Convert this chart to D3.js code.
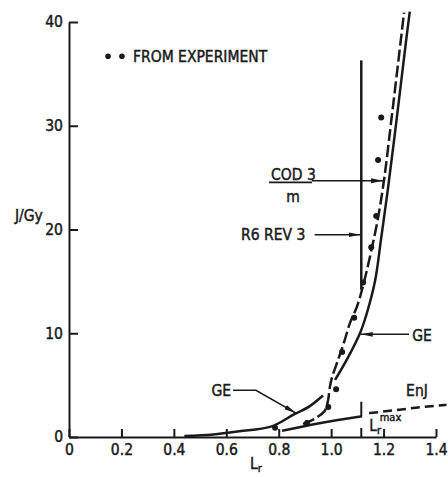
<!DOCTYPE html>
<html>
<head>
<meta charset="utf-8">
<script src="https://cdn.jsdelivr.net/npm/d3@7"></script>
<style>
  body { margin: 0; background: #fff; }
  text { font-family: "DejaVu Sans Condensed", "DejaVu Sans", sans-serif; fill: #1a1a1a; stroke: #1a1a1a; stroke-width: 0.45px; }
</style>
</head>
<body>
<div class="chart"></div>
<script>
// data (Lr, J/Gy)
const experiment = [
  [0.786, 0.9], [0.908, 1.35], [0.989, 2.9], [1.019, 4.6], [1.042, 8.2],
  [1.088, 11.5], [1.122, 14.9], [1.153, 18.3], [1.172, 21.3], [1.179, 26.7], [1.191, 30.8]
];
const geLeft = [[0.44, 0.1], [0.55, 0.25], [0.65, 0.55], [0.77, 1.0], [0.86, 2.2], [0.92, 3.0], [0.969, 4.0]];
const geRight = [[1.015, 5.5], [1.065, 7.7], [1.11, 10.0], [1.137, 12.0], [1.168, 15.1], [1.19, 19],
  [1.215, 23.6], [1.24, 28.6], [1.265, 33.8], [1.285, 38], [1.30, 41]];
const cod3m = [[0.893, 1.25], [0.94, 1.8], [0.975, 2.5], [0.988, 3.5], [0.995, 4.8], [1.004, 5.8],
  [1.026, 7.4], [1.05, 9.2], [1.072, 11], [1.099, 12.6], [1.122, 14.6], [1.15, 17.6], [1.178, 21],
  [1.203, 25], [1.228, 30.2], [1.253, 35.5], [1.278, 40.9]];
const r6Vertical = [[1.115, 14.2], [1.115, 36.3]];
const enjSolid = [[0.813, 0.6], [0.95, 1.3], [1.118, 2.0]];
const enjDashed = [[1.145, 2.3], [1.25, 2.6], [1.35, 2.9], [1.44, 3.1]];
const lrMax = 1.115;
const xTicks = [0, 0.2, 0.4, 0.6, 0.8, 1.0, 1.2, 1.4];
const yTicks = [0, 10, 20, 30, 40];

const width = 448, height = 477;

const svg = d3.select(".chart")
  .append("svg")
  .attr("width", width)
  .attr("height", height);

// scales
const x = d3.scaleLinear().domain([0, 1.4]).range([69, 436]);
const y = d3.scaleLinear().domain([0, 40]).range([437, 22]);

// arrow head
svg.append("defs").append("marker")
  .attr("id", "arrow")
  .attr("viewBox", "0 0 12 6")
  .attr("refX", 12).attr("refY", 3)
  .attr("markerWidth", 12).attr("markerHeight", 6)
  .attr("markerUnits", "userSpaceOnUse")
  .attr("orient", "auto")
  .append("path")
  .attr("d", "M0,0.6L12,3L0,5.4Z")
  .attr("fill", "#1a1a1a");

// axes
const xAxis = d3.axisBottom(x)
  .tickValues(xTicks)
  .tickFormat(d => d === 0 ? "0" : d3.format(".1f")(d))
  .tickSizeInner(-8).tickSizeOuter(0).tickPadding(7);

const yAxis = d3.axisLeft(y)
  .tickValues(yTicks)
  .tickSizeInner(-9).tickSizeOuter(0).tickPadding(6);

svg.append("g")
  .attr("transform", `translate(0,${y(0)})`)
  .call(xAxis)
  .call(g => g.selectAll("path, line").attr("stroke", "#1a1a1a").attr("stroke-width", 2))
  .call(g => g.selectAll("text").attr("font-size", 15.5).attr("fill", "#1a1a1a"));

svg.append("g")
  .attr("transform", `translate(${x(0)},0)`)
  .call(yAxis)
  .call(g => g.selectAll("path, line").attr("stroke", "#1a1a1a").attr("stroke-width", 2))
  .call(g => g.selectAll("text").attr("font-size", 15.5).attr("fill", "#1a1a1a"));

// extra tick at Lr max
svg.append("line")
  .attr("x1", x(lrMax)).attr("x2", x(lrMax))
  .attr("y1", y(0)).attr("y2", y(0) - 9)
  .attr("stroke", "#1a1a1a").attr("stroke-width", 2);

// axis titles
svg.append("text")
  .attr("x", x(-0.206)).attr("y", y(21.3)).attr("dy", "0.35em")
  .attr("font-size", 15.5).text("J/Gy");

const lrLabel = svg.append("text")
  .attr("x", x(0.69)).attr("y", y(-2.6)).attr("dy", "0.35em")
  .attr("font-size", 15.5);
lrLabel.append("tspan").text("L");
lrLabel.append("tspan").attr("font-size", 11).attr("dy", "0.25em").text("r");

// curves
const line = d3.line()
  .x(d => x(d[0]))
  .y(d => y(d[1]))
  .curve(d3.curveMonotoneX);

const smooth = d3.line()
  .x(d => x(d[0]))
  .y(d => y(d[1]))
  .curve(d3.curveCatmullRom);

const straight = d3.line().x(d => x(d[0])).y(d => y(d[1]));

svg.append("path").datum(geLeft)
  .attr("fill", "none").attr("stroke", "#1a1a1a").attr("stroke-width", 2.5)
  .attr("d", line);

svg.append("path").datum(geRight)
  .attr("fill", "none").attr("stroke", "#1a1a1a").attr("stroke-width", 2.5)
  .attr("d", smooth);

svg.append("path").datum(cod3m)
  .attr("fill", "none").attr("stroke", "#1a1a1a").attr("stroke-width", 2.5)
  .attr("stroke-dasharray", "12,4")
  .attr("d", smooth);

svg.append("path").datum(r6Vertical)
  .attr("fill", "none").attr("stroke", "#1a1a1a").attr("stroke-width", 2.5)
  .attr("d", straight);

svg.append("path").datum(enjSolid)
  .attr("fill", "none").attr("stroke", "#1a1a1a").attr("stroke-width", 2.5)
  .attr("d", line);

svg.append("path").datum(enjDashed)
  .attr("fill", "none").attr("stroke", "#1a1a1a").attr("stroke-width", 2.5)
  .attr("stroke-dasharray", "9,5")
  .attr("d", line);

// Lr max marker on EnJ line
svg.append("line")
  .attr("x1", x(lrMax)).attr("x2", x(lrMax))
  .attr("y1", y(2.0)).attr("y2", y(3.4))
  .attr("stroke", "#1a1a1a").attr("stroke-width", 2);

// experiment points
svg.selectAll("circle.exp")
  .data(experiment)
  .enter()
  .append("circle")
  .attr("class", "exp")
  .attr("cx", d => x(d[0]))
  .attr("cy", d => y(d[1]))
  .attr("r", 3)
  .attr("fill", "#1a1a1a");

// legend
svg.selectAll("circle.leg")
  .data([0.149, 0.202])
  .enter()
  .append("circle")
  .attr("class", "leg")
  .attr("cx", d => x(d))
  .attr("cy", y(36.7))
  .attr("r", 2.8)
  .attr("fill", "#1a1a1a");

svg.append("text")
  .attr("x", x(0.244)).attr("y", y(36.7)).attr("dy", "0.36em")
  .attr("font-size", 15.5).text("FROM EXPERIMENT");

// annotations
svg.append("text")
  .attr("x", x(0.771)).attr("y", y(25.3)).attr("dy", "0.36em")
  .attr("font-size", 15.5).text("COD 3");
svg.append("line")
  .attr("x1", x(0.763)).attr("x2", x(0.927))
  .attr("y1", y(24.55)).attr("y2", y(24.55))
  .attr("stroke", "#1a1a1a").attr("stroke-width", 1.8);
svg.append("text")
  .attr("x", x(0.855)).attr("y", y(23.2)).attr("dy", "0.36em")
  .attr("text-anchor", "middle").attr("font-size", 15.5).text("m");
svg.append("path").datum([[0.927, 24.7], [1.198, 24.7]])
  .attr("fill", "none").attr("stroke", "#1a1a1a").attr("stroke-width", 1.6)
  .attr("marker-end", "url(#arrow)").attr("d", straight);

svg.append("text")
  .attr("x", x(0.656)).attr("y", y(19.5)).attr("dy", "0.36em")
  .attr("font-size", 15.5).text("R6  REV  3");
svg.append("path").datum([[0.937, 19.5], [1.112, 19.5]])
  .attr("fill", "none").attr("stroke", "#1a1a1a").attr("stroke-width", 1.6)
  .attr("marker-end", "url(#arrow)").attr("d", straight);

svg.append("text")
  .attr("x", x(1.309)).attr("y", y(9.8)).attr("dy", "0.36em")
  .attr("font-size", 15.5).text("GE");
svg.append("path").datum([[1.297, 9.9], [1.113, 9.9]])
  .attr("fill", "none").attr("stroke", "#1a1a1a").attr("stroke-width", 1.6)
  .attr("marker-end", "url(#arrow)").attr("d", straight);

svg.append("text")
  .attr("x", x(0.618)).attr("y", y(4.5)).attr("dy", "0.36em")
  .attr("text-anchor", "end").attr("font-size", 15.5).text("GE");
svg.append("path").datum([[0.626, 4.5], [0.713, 4.5], [0.866, 2.3]])
  .attr("fill", "none").attr("stroke", "#1a1a1a").attr("stroke-width", 1.6)
  .attr("marker-end", "url(#arrow)").attr("d", straight);

svg.append("text")
  .attr("x", x(1.286)).attr("y", y(4.5)).attr("dy", "0.36em")
  .attr("font-size", 15.5).text("EnJ");

const lrMaxLabel = svg.append("text")
  .attr("x", x(1.145)).attr("y", y(1.1)).attr("dy", "0.36em")
  .attr("font-size", 15.5);
lrMaxLabel.append("tspan").text("L");
lrMaxLabel.append("tspan").attr("font-size", 11).attr("dy", "0.3em").text("r");
lrMaxLabel.append("tspan").attr("font-size", 11).attr("dy", "-1.2em").attr("dx", "-0.1em").text("max");
</script>
</body>
</html>
